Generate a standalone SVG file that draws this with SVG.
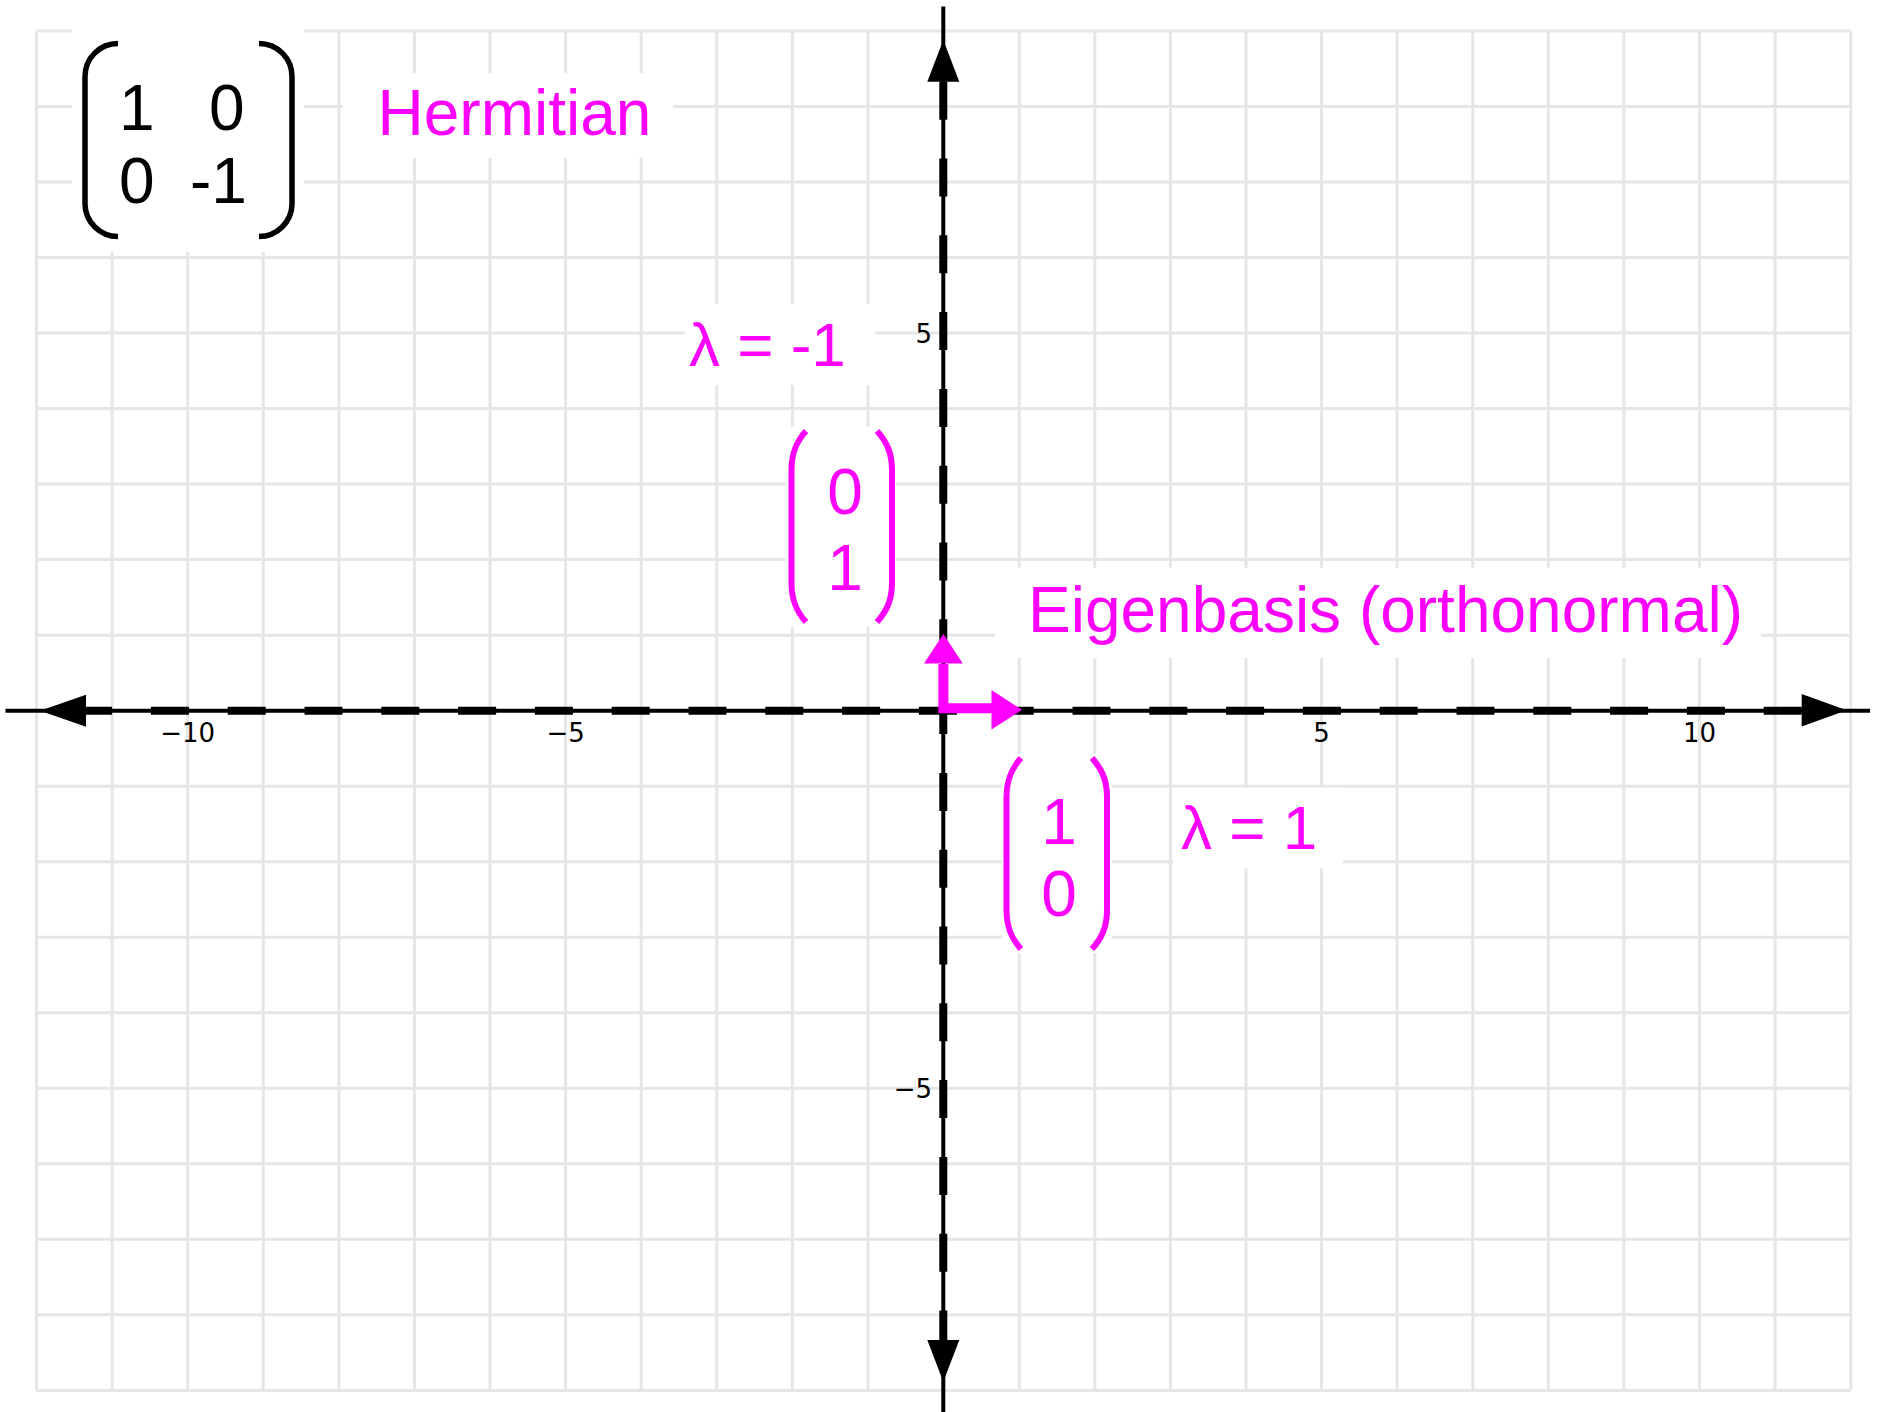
<svg xmlns="http://www.w3.org/2000/svg" width="1883" height="1412" viewBox="0 0 1883 1412">
<style>
.grid{stroke:#e6e6e6;stroke-width:3;fill:none}
.bg{fill:#ffffff}
.ax{stroke:#000;stroke-width:4;fill:none}
.axd{stroke:#000;stroke-width:8;fill:none;stroke-dasharray:38 38.8}
.ah{fill:#000}
.tick{font-family:"DejaVu Sans",sans-serif;font-size:26px;fill:#000}
.big{font-family:"Liberation Sans",Arial,sans-serif;font-size:64px}
.lam{font-size:62px}
.blk{fill:#000}
.mag{fill:#ff00ff}
.bp{stroke:#000;stroke-width:5.5;fill:none}
.mp{stroke:#ff00ff;stroke-width:6;fill:none}
</style>
<rect width="1883" height="1412" fill="#ffffff"/>
<g id="grid">
<path class="grid" d="M36.5 31V1390.4M112.1 31V1390.4M187.7 31V1390.4M263.3 31V1390.4M338.9 31V1390.4M414.5 31V1390.4M490 31V1390.4M565.6 31V1390.4M641.2 31V1390.4M716.8 31V1390.4M792.4 31V1390.4M868 31V1390.4M943.6 31V1390.4M1019.2 31V1390.4M1094.8 31V1390.4M1170.4 31V1390.4M1246 31V1390.4M1321.5 31V1390.4M1397.1 31V1390.4M1472.7 31V1390.4M1548.3 31V1390.4M1623.9 31V1390.4M1699.5 31V1390.4M1775.1 31V1390.4M1850.7 31V1390.4"/>
<path class="grid" d="M36.5 31H1850.7M36.5 106.5H1850.7M36.5 182H1850.7M36.5 257.6H1850.7M36.5 333.1H1850.7M36.5 408.6H1850.7M36.5 484.1H1850.7M36.5 559.6H1850.7M36.5 635.2H1850.7M36.5 710.7H1850.7M36.5 786.2H1850.7M36.5 861.7H1850.7M36.5 937.2H1850.7M36.5 1012.8H1850.7M36.5 1088.3H1850.7M36.5 1163.8H1850.7M36.5 1239.3H1850.7M36.5 1314.8H1850.7M36.5 1390.4H1850.7"/>
</g>
<g id="tick-labels">
<text class="tick" x="187.7" y="741.5" text-anchor="middle">−10</text>
<text class="tick" x="565.6" y="741.5" text-anchor="middle">−5</text>
<text class="tick" x="1321.5" y="741.5" text-anchor="middle">5</text>
<text class="tick" x="1699.5" y="741.5" text-anchor="middle">10</text>
<text class="tick" x="932" y="342.5" text-anchor="end">5</text>
<text class="tick" x="932" y="1098" text-anchor="end">−5</text>
</g>
<g id="connectors">
<g id="x-axis">
<path class="ax" d="M5.5 710.7H1870"/>
<path class="axd" d="M1801.7 710.7H86"/>
<polygon class="ah" points="40,710.7 86,694.7 86,726.7"/>
<polygon class="ah" points="1846.7,710.2 1801.7,694 1801.7,726.4"/>
</g>
<g id="y-axis">
<path class="ax" d="M943.3 6.5V1412"/>
<path class="axd" d="M943.3 81.7V1340"/>
<polygon class="ah" points="943.3,40 927.3,81.7 959.3,81.7"/>
<polygon class="ah" points="943.3,1381.7 927.3,1340 959.3,1340"/>
</g>
<g id="eigenvectors">
<polyline points="943.4,664 943.4,708.3 993,708.3" fill="none" stroke="#ff00ff" stroke-width="10" stroke-linejoin="miter"/>
<polygon class="mag" points="943.4,634 924,663.5 962.8,663.5"/>
<polygon class="mag" points="1022,709.8 991.5,690 991.5,729.5"/>
</g>
</g>
<g id="matrix">
<rect class="bg" x="72" y="28" width="232" height="224"/>
<path class="bp" d="M118 43.5A33 33 0 0 0 85 76.5V204A33 33 0 0 0 118 236.5"/>
<path class="bp" d="M259 43.5A33 33 0 0 1 292 76.5V204A33 33 0 0 1 259 236.5"/>
<text class="big blk" x="119" y="129.5">1</text>
<text class="big blk" x="209" y="129.5">0</text>
<text class="big blk" x="119" y="202.5">0</text>
<text class="big blk" x="190" y="202.5">-1</text>
</g>
<g id="label-hermitian">
<rect class="bg" x="343" y="73" width="330" height="85"/>
<text class="big mag" x="377.5" y="135">Hermitian</text>
</g>
<g id="label-lambda-neg1">
<rect class="bg" x="685" y="304" width="190" height="81"/>
<text class="big lam mag" x="689" y="365.5">λ = -1</text>
</g>
<g id="vector-01">
<rect class="bg" x="786" y="427" width="110" height="200"/>
<path class="mp" d="M806 431C797 441 791.5 452 791.5 470V583C791.5 601 797 612 806 622"/>
<path class="mp" d="M877 431C886 441 892 452 892 470V583C892 601 886 612 877 622"/>
<text class="big mag" x="845" y="514" text-anchor="middle">0</text>
<text class="big mag" x="845" y="590" text-anchor="middle">1</text>
</g>
<g id="label-eigenbasis">
<rect class="bg" x="995" y="568" width="766" height="90"/>
<text class="big mag" x="1028" y="631.5">Eigenbasis (orthonormal)</text>
</g>
<g id="vector-10">
<rect class="bg" x="1002" y="754" width="110" height="199"/>
<path class="mp" d="M1021 758C1012 768 1006.5 779 1006.5 797V910C1006.5 928 1012 939 1021 949"/>
<path class="mp" d="M1092 758C1101 768 1107 779 1107 797V910C1107 928 1101 939 1092 949"/>
<text class="big mag" x="1059" y="843.5" text-anchor="middle">1</text>
<text class="big mag" x="1059" y="916" text-anchor="middle">0</text>
</g>
<g id="label-lambda-1">
<rect class="bg" x="1173" y="787.5" width="170" height="81"/>
<text class="big lam mag" x="1181" y="849.3">λ = 1</text>
</g>
</svg>
